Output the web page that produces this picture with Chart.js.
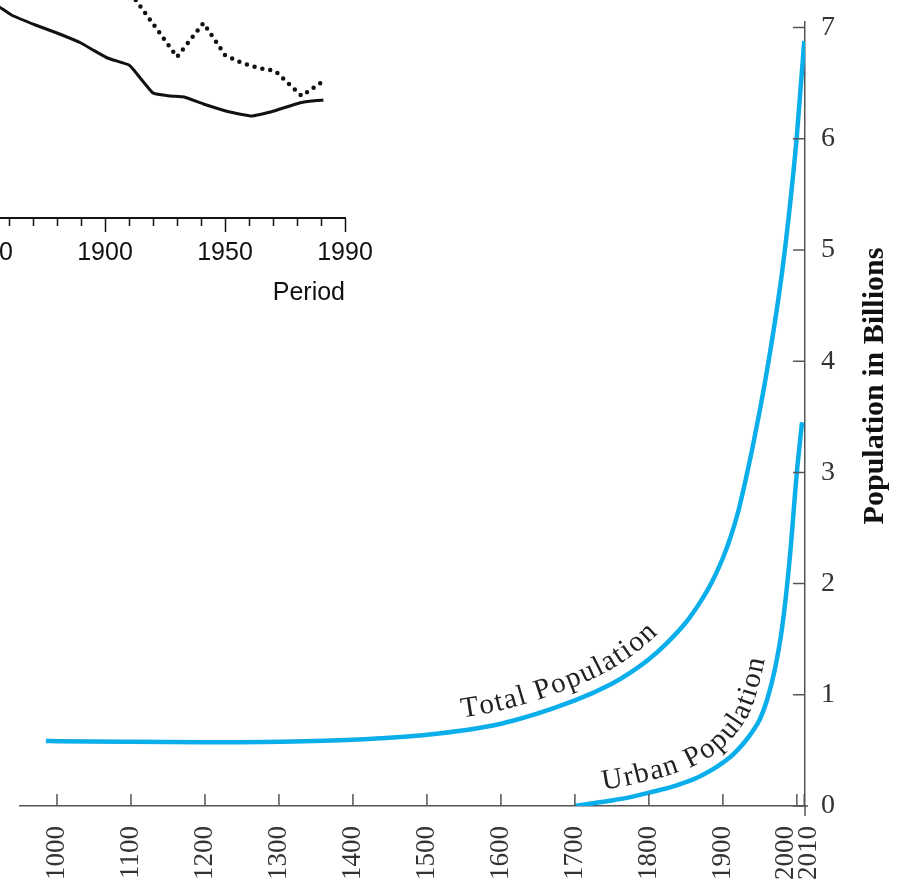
<!DOCTYPE html>
<html>
<head>
<meta charset="utf-8">
<script src="https://cdn.jsdelivr.net/npm/chart.js@4.4.0/dist/chart.umd.min.js"></script>
<style>
    body { margin: 0; background: #fff; overflow: hidden; }
    #wrap { position: relative; width: 899px; height: 886px; overflow: hidden; }
    #main { position: absolute; left: 0; top: 0; }
    #inset { position: absolute; left: -60px; top: -100px; }
</style>
</head>
<body>
<div id="wrap">
    <canvas id="main" width="899" height="886"></canvas>
    <canvas id="inset" width="440" height="430"></canvas>
</div>
<script>
// main chart: world population, billions
const totalYears = [985, 1000, 1100, 1200, 1300, 1400, 1500, 1600, 1700, 1750, 1775, 1800, 1825, 1850,
    1860, 1870, 1880, 1890, 1900, 1910, 1920, 1930, 1940, 1950, 1960, 1970, 1980, 1990, 2000, 2010];
const totalPop = [0.585, 0.583, 0.577, 0.574, 0.578, 0.595, 0.64, 0.74, 0.95, 1.1, 1.2, 1.32, 1.47, 1.65,
    1.74, 1.84, 1.95, 2.08, 2.23, 2.41, 2.63, 2.91, 3.22, 3.56, 3.93, 4.34, 4.8, 5.36, 6.03, 6.88];
const urbanYears = [1700, 1725, 1750, 1775, 1800, 1825, 1850, 1860, 1870, 1880, 1890, 1900, 1910, 1920,
    1930, 1940, 1950, 1960, 1970, 1980, 1990, 2000, 2007];
const urbanPop = [0, 0.025, 0.05, 0.08, 0.12, 0.16, 0.215, 0.24, 0.27, 0.305, 0.345, 0.39, 0.44, 0.505,
    0.58, 0.67, 0.78, 0.96, 1.22, 1.6, 2.2, 3.0, 3.45];
const yearTicks = [1000, 1100, 1200, 1300, 1400, 1500, 1600, 1700, 1800, 1900, 2000, 2010];
const popTicks = [0, 1, 2, 3, 4, 5, 6, 7];

// inset chart (cropped in the picture)
const solidYears = [1845, 1856, 1861, 1871, 1880, 1890, 1895, 1901, 1910, 1912, 1920, 1927, 1933, 1941, 1952, 1961, 1969, 1981, 1986, 1991];
const solidValues = [22.3, 21.1, 20.3, 19.3, 18.5, 17.5, 16.8, 16.0, 15.3, 14.8, 12.5, 12.2, 12.1, 11.4, 10.6, 10.2, 10.6, 11.5, 11.7, 11.8];
const dottedYears = [1905, 1930, 1941, 1950, 1957, 1964, 1971, 1982, 1991];
const dottedValues = [24.4, 16.1, 19.5, 16.3, 15.5, 15.0, 14.7, 12.2, 13.7];
const periodTicks = [1840, 1850, 1860, 1870, 1880, 1890, 1900, 1910, 1920, 1930, 1940, 1950, 1960, 1970, 1980, 1990, 2000];
const periodMajor = [1850, 1900, 1950, 2000];
const periodMajorText = ['1850', '1900', '1950', '1990'];

const BLUE = '#0aaeea';
const SERIF = '"Liberation Serif", "Times New Roman", serif';

// tick marks drawn inward from the axes
const innerTicks = {
    id: 'innerTicks',
    afterDraw(chart, args, opts) {
        const x = chart.scales.x, y = chart.scales.y, ctx = chart.ctx;
        ctx.save();
        ctx.strokeStyle = opts.color;
        ctx.lineWidth = opts.width;
        ctx.beginPath();
        x.ticks.forEach(t => {
            const px = x.getPixelForValue(t.value);
            ctx.moveTo(px, x.top);
            ctx.lineTo(px, x.top - opts.length);
        });
        y.ticks.forEach(t => {
            const py = y.getPixelForValue(t.value);
            ctx.moveTo(y.left, py);
            ctx.lineTo(y.left - opts.length, py);
        });
        ctx.moveTo(y.left, y.bottom);
        ctx.lineTo(y.left, y.bottom + opts.overshoot);
        ctx.moveTo(x.right, x.top);
        ctx.lineTo(x.right + 3, x.top);
        ctx.stroke();
        ctx.restore();
    }
};

// rotated year labels under the x axis
const xLabels = {
    id: 'xLabels',
    afterDraw(chart, args, opts) {
        const sc = chart.scales.x, ctx = chart.ctx;
        ctx.save();
        ctx.font = opts.font;
        ctx.fillStyle = opts.color;
        ctx.textAlign = 'right';
        ctx.textBaseline = 'middle';
        sc.ticks.forEach(t => {
            const px = sc.getPixelForValue(t.value) + (opts.nudge[t.value] || 0);
            ctx.save();
            ctx.translate(px, sc.top + opts.gap);
            ctx.rotate(-Math.PI / 2);
            ctx.fillText(String(t.value), 0, 0);
            ctx.restore();
        });
        ctx.restore();
    }
};

// text that follows a curve
const curveLabels = {
    id: 'curveLabels',
    afterDatasetsDraw(chart, args, opts) {
        const ctx = chart.ctx;
        const xs = chart.scales.x;
        opts.items.forEach(item => {
            const pts = chart.getDatasetMeta(item.dataset).data;
            const base = [];
            for (let i = 0; i < pts.length - 1; i++) {
                const a = pts[i], b = pts[i + 1];
                const c1x = a.cp2x ?? a.x, c1y = a.cp2y ?? a.y;
                const c2x = b.cp1x ?? b.x, c2y = b.cp1y ?? b.y;
                for (let s = 0; s < 30; s++) {
                    const t = s / 30, u = 1 - t;
                    base.push({
                        x: u*u*u*a.x + 3*u*u*t*c1x + 3*u*t*t*c2x + t*t*t*b.x,
                        y: u*u*u*a.y + 3*u*u*t*c1y + 3*u*t*t*c2y + t*t*t*b.y
                    });
                }
            }
            base.push({x: pts[pts.length - 1].x, y: pts[pts.length - 1].y});

            const path = base.map((p, i) => {
                const p0 = base[Math.max(i - 1, 0)], p1 = base[Math.min(i + 1, base.length - 1)];
                const dx = p1.x - p0.x, dy = p1.y - p0.y, len = Math.hypot(dx, dy) || 1;
                return {x: p.x + dy / len * item.offset, y: p.y - dx / len * item.offset};
            });
            const arc = [0];
            for (let i = 1; i < path.length; i++) {
                arc.push(arc[i - 1] + Math.hypot(path[i].x - path[i - 1].x, path[i].y - path[i - 1].y));
            }
            const at = s => {
                let i = 1;
                while (i < arc.length - 1 && arc[i] < s) i++;
                const a = path[i - 1], b = path[i];
                const f = (s - arc[i - 1]) / ((arc[i] - arc[i - 1]) || 1);
                return {x: a.x + (b.x - a.x) * f, y: a.y + (b.y - a.y) * f, ang: Math.atan2(b.y - a.y, b.x - a.x)};
            };

            const startX = xs.getPixelForValue(item.from);
            let k = 0;
            while (k < path.length - 1 && path[k].x < startX) k++;
            let s = arc[k];

            ctx.save();
            ctx.font = opts.font;
            ctx.fillStyle = opts.color;
            ctx.textAlign = 'center';
            ctx.textBaseline = 'alphabetic';
            for (const ch of item.text) {
                const w = ctx.measureText(ch).width;
                const p = at(s + w / 2);
                ctx.save();
                ctx.translate(p.x, p.y);
                ctx.rotate(p.ang);
                ctx.fillText(ch, 0, 0);
                ctx.restore();
                s += w + opts.spacing;
            }
            ctx.restore();
        });
    }
};

// right side axis title, reading bottom to top
const yTitle = {
    id: 'yTitle',
    afterDraw(chart, args, opts) {
        const ctx = chart.ctx;
        ctx.save();
        ctx.font = opts.font;
        ctx.fillStyle = opts.color;
        ctx.textAlign = 'center';
        ctx.textBaseline = 'middle';
        ctx.translate(opts.x, opts.y);
        ctx.rotate(-Math.PI / 2);
        ctx.fillText(opts.text, 0, 0);
        ctx.restore();
    }
};

new Chart(document.getElementById('main'), {
    type: 'line',
    data: {
        datasets: [{
            label: 'Total Population',
            data: totalYears.map((x, i) => ({x: x, y: totalPop[i]})),
            borderColor: BLUE,
            borderWidth: 4.5,
            pointRadius: 0,
            cubicInterpolationMode: 'monotone'
        }, {
            label: 'Urban Population',
            data: urbanYears.map((x, i) => ({x: x, y: urbanPop[i]})),
            borderColor: BLUE,
            borderWidth: 4.5,
            pointRadius: 0,
            cubicInterpolationMode: 'monotone'
        }]
    },
    options: {
        responsive: false,
        animation: false,
        layout: { padding: { left: 20, top: 22, right: 0, bottom: 0 } },
        plugins: {
            legend: { display: false },
            tooltip: { enabled: false },
            innerTicks: { color: '#555', width: 1.5, length: 12, overshoot: 10 },
            xLabels: { font: '27px ' + SERIF, color: '#333', gap: 20, nudge: { 2000: -11, 2010: 5 } },
            curveLabels: {
                font: '29px ' + SERIF,
                color: '#222',
                spacing: 1.5,
                items: [
                    { dataset: 0, text: 'Total Population', from: 1547, offset: 13 },
                    { dataset: 1, text: 'Urban Population', from: 1738, offset: 12 }
                ]
            },
            yTitle: { text: 'Population in Billions', font: 'bold 30px ' + SERIF, color: '#111', x: 875, y: 386 }
        },
        scales: {
            x: {
                type: 'linear',
                min: 950,
                max: 2011,
                afterBuildTicks: s => { s.ticks = yearTicks.map(v => ({value: v})); },
                afterFit: s => { s.height = 80; s.paddingLeft = 0; s.paddingRight = 0; },
                ticks: { display: false },
                grid: { display: false, drawTicks: false },
                border: { color: '#555', width: 1.5 }
            },
            y: {
                type: 'linear',
                position: 'right',
                min: 0,
                max: 7.05,
                afterBuildTicks: s => { s.ticks = popTicks.map(v => ({value: v})); },
                afterFit: s => { s.width = 94; s.paddingTop = 0; s.paddingBottom = 0; },
                ticks: { color: '#333', padding: 16, font: { family: SERIF, size: 28 } },
                grid: { display: false, drawTicks: false },
                border: { color: '#555', width: 1.5 }
            }
        }
    },
    plugins: [innerTicks, xLabels, curveLabels, yTitle]
});

new Chart(document.getElementById('inset'), {
    type: 'line',
    data: {
        datasets: [{
            data: solidYears.map((x, i) => ({x: x, y: solidValues[i]})),
            borderColor: '#111',
            borderWidth: 3,
            pointRadius: 0,
            tension: 0.1
        }, {
            data: dottedYears.map((x, i) => ({x: x, y: dottedValues[i]})),
            borderColor: '#111',
            borderWidth: 4.5,
            borderDash: [0, 8],
            borderCapStyle: 'round',
            pointRadius: 0,
            tension: 0
        }]
    },
    options: {
        responsive: false,
        animation: false,
        layout: { padding: { left: 21, top: 18, right: 35, bottom: 0 } },
        plugins: { legend: { display: false }, tooltip: { enabled: false } },
        scales: {
            x: {
                type: 'linear',
                min: 1840,
                max: 2000,
                afterBuildTicks: s => { s.ticks = periodTicks.map(v => ({value: v})); },
                afterFit: s => { s.height = 112; s.paddingLeft = 0; s.paddingRight = 0; },
                ticks: {
                    autoSkip: false,
                    maxRotation: 0,
                    minRotation: 0,
                    padding: 6,
                    color: '#111',
                    font: { family: '"Liberation Sans", Arial, sans-serif', size: 25 },
                    callback: v => {
                        const i = periodMajor.indexOf(v);
                        return i < 0 ? '' : periodMajorText[i];
                    }
                },
                grid: {
                    drawOnChartArea: false,
                    drawTicks: true,
                    tickLength: 14,
                    tickColor: '#111',
                    tickWidth: 1.5,
                    tickBorderDash: c => periodMajor.includes(c.tick.value) ? [] : [7, 40]
                },
                border: { color: '#111', width: 2 },
                title: {
                    display: true,
                    text: 'Period',
                    align: 'end',
                    color: '#111',
                    font: { family: '"Liberation Sans", Arial, sans-serif', size: 25 },
                    padding: { top: 0, bottom: 22 }
                }
            },
            y: { display: false, min: 0, max: 30 }
        }
    }
});
</script>
</body>
</html>
